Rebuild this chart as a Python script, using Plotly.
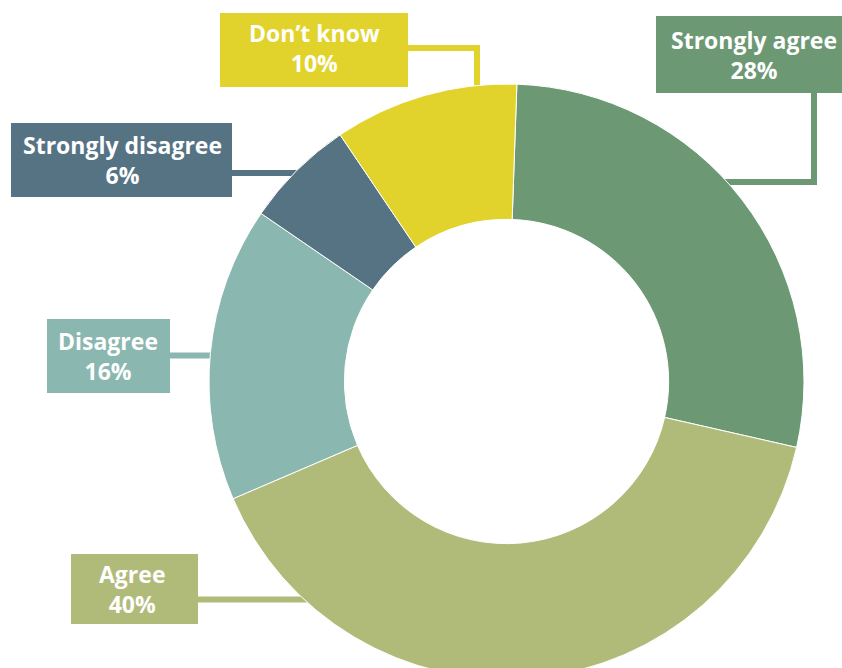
import plotly.graph_objects as go

# Survey responses
categories = ["Strongly agree", "Agree", "Disagree", "Strongly disagree", "Don\u2019t know"]
shares = [28, 40, 16, 6, 10]
colors = ["#6C9874", "#B1BB79", "#8AB7AF", "#567384", "#E1D32B"]

W, H = 842, 700


def px(x):
    return x / W


def py(y):
    return (H - y) / H


# Label box geometry in page pixels: (left, top, right, bottom)
boxes = {
    "Strongly agree": (656, 16, 860, 93),
    "Agree": (71, 554, 198, 624),
    "Disagree": (47, 319, 170, 393),
    "Strongly disagree": (11, 123, 232, 197),
    "Don\u2019t know": (220, 13, 408, 87),
}
# Text centre inside each box
text_pos = {
    "Strongly agree": (754, 55),
    "Agree": (132, 589),
    "Disagree": (108, 356),
    "Strongly disagree": (122, 160),
    "Don\u2019t know": (314, 48),
}
# Elbow connectors from box to ring
connectors = {
    "Strongly agree": [(814, 93), (814, 182), (700, 182)],
    "Agree": [(198, 599.5), (340, 599.5)],
    "Disagree": [(170, 355.5), (235, 355.5)],
    "Strongly disagree": [(232, 173), (315, 173)],
    "Don\u2019t know": [(408, 48), (477, 48), (477, 105)],
}

fig = go.Figure(
    go.Pie(
        labels=categories,
        values=shares,
        hole=0.545,
        sort=False,
        direction="clockwise",
        rotation=2,
        marker=dict(colors=colors, line=dict(color="white", width=1)),
        textinfo="none",
        hoverinfo="label+percent",
        domain=dict(x=[px(209), px(804)], y=[py(679), py(84)]),
        showlegend=False,
    )
)

shapes = []
annotations = []
for cat, share, col in zip(categories, shares, colors):
    pts = connectors[cat]
    path = "M " + " L ".join(f"{px(x)},{py(y)}" for x, y in pts)
    shapes.append(
        dict(type="path", path=path, xref="paper", yref="paper",
             line=dict(color=col, width=6), layer="below")
    )
    l, t, r, b = boxes[cat]
    shapes.append(
        dict(type="rect", xref="paper", yref="paper",
             x0=px(l), x1=px(r), y0=py(b), y1=py(t),
             fillcolor=col, line=dict(width=0), layer="below")
    )
    tx, ty = text_pos[cat]
    annotations.append(
        dict(text=f"<b>{cat}</b><br><b>{share}%</b>", x=px(tx), y=py(ty),
             xref="paper", yref="paper", xanchor="center", yanchor="middle",
             showarrow=False, align="center",
             font=dict(family="Open Sans", size=23, color="white"))
    )

fig.update_layout(
    width=W, height=H,
    margin=dict(l=0, r=0, t=0, b=0),
    paper_bgcolor="white", plot_bgcolor="white",
    shapes=shapes, annotations=annotations,
)

fig.write_html(
    "out.html",
    post_script="document.documentElement.style.overflow='hidden';"
                "document.body.style.overflow='hidden';document.body.style.margin='0';",
)
